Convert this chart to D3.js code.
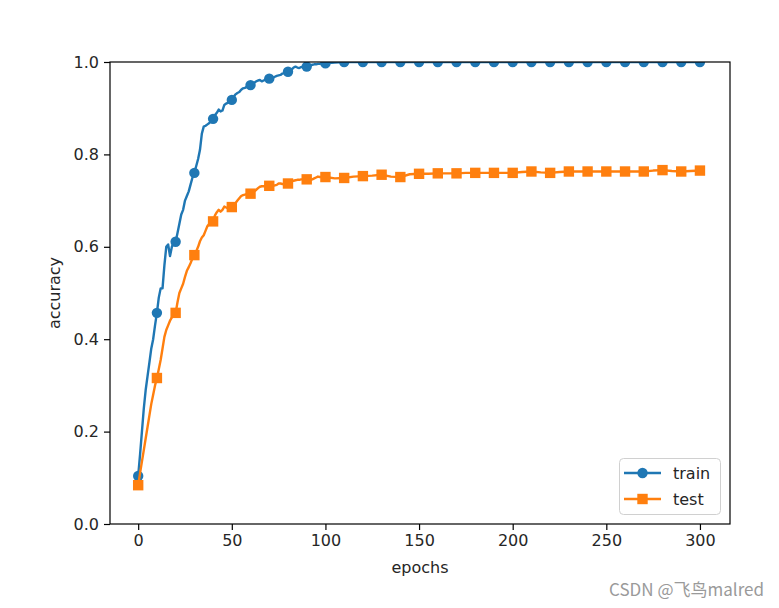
<!DOCTYPE html>
<html>
<head>
<meta charset="utf-8">
<script src="https://cdn.jsdelivr.net/npm/d3@7"></script>
<style>
  html, body { margin: 0; padding: 0; background: #fff; }
  svg { display: block; font-family: "DejaVu Sans", sans-serif; }
</style>
</head>
<body>
<svg id="chart" width="779" height="608"></svg>
<script>
// ---------------- data ----------------
// sample grid: every epoch 0..100, then every 5 epochs to 300
const epochs = d3.range(0, 101).concat(d3.range(105, 301, 5));

const trainAcc = [
  0.104, 0.15, 0.20, 0.25, 0.29, 0.32, 0.35, 0.38, 0.40, 0.43,
  0.457, 0.49, 0.51, 0.51, 0.56, 0.60, 0.605, 0.58, 0.60, 0.61,
  0.611, 0.63, 0.65, 0.67, 0.68, 0.70, 0.71, 0.72, 0.735, 0.75,
  0.76, 0.775, 0.79, 0.81, 0.845, 0.86, 0.862, 0.865, 0.868, 0.872,
  0.877, 0.885, 0.89, 0.897, 0.893, 0.895, 0.907, 0.91, 0.912, 0.915,
  0.918, 0.925, 0.93, 0.933, 0.935, 0.94, 0.943, 0.944, 0.946, 0.948,
  0.950, 0.952, 0.955, 0.958, 0.96, 0.961, 0.958, 0.96, 0.962, 0.963,
  0.964, 0.965, 0.966, 0.968, 0.97, 0.971, 0.972, 0.975, 0.976, 0.978,
  0.979, 0.981, 0.984, 0.988, 0.99, 0.988, 0.987, 0.989, 0.99, 0.99,
  0.99, 0.992, 0.993, 0.994, 0.995, 0.995, 0.996, 0.996, 0.997, 0.997,
  0.997,
  0.999, 1.0, 1.0, 1.0, 1.0, 1.0, 1.0, 1.0, 1.0, 1.0,
  1.0, 1.0, 1.0, 1.0, 1.0, 1.0, 1.0, 1.0, 1.0, 1.0,
  1.0, 1.0, 1.0, 1.0, 1.0, 1.0, 1.0, 1.0, 1.0, 1.0,
  1.0, 1.0, 1.0, 1.0, 1.0, 1.0, 1.0, 1.0, 1.0, 1.0
];

const testAcc = [
  0.084, 0.11, 0.135, 0.16, 0.185, 0.21, 0.235, 0.26, 0.28, 0.30,
  0.316, 0.335, 0.355, 0.38, 0.405, 0.42, 0.43, 0.44, 0.447, 0.452,
  0.457, 0.48, 0.50, 0.51, 0.52, 0.535, 0.548, 0.556, 0.565, 0.575,
  0.582, 0.59, 0.60, 0.612, 0.62, 0.625, 0.635, 0.645, 0.65, 0.652,
  0.655, 0.668, 0.675, 0.68, 0.676, 0.68, 0.687, 0.685, 0.683, 0.684,
  0.686, 0.69, 0.695, 0.70, 0.705, 0.71, 0.712, 0.713, 0.714, 0.715,
  0.715, 0.717, 0.72, 0.723, 0.727, 0.73, 0.731, 0.731, 0.731, 0.731,
  0.732, 0.732, 0.732, 0.733, 0.734, 0.737, 0.737, 0.736, 0.736, 0.736,
  0.737, 0.739, 0.742, 0.743, 0.744, 0.745, 0.745, 0.746, 0.746, 0.746,
  0.746, 0.746, 0.745, 0.746, 0.748, 0.75, 0.752, 0.751, 0.751, 0.751,
  0.751,
  0.748, 0.749, 0.752, 0.753, 0.754, 0.756, 0.752, 0.751, 0.757, 0.758,
  0.758, 0.759, 0.759, 0.759, 0.760, 0.760, 0.760, 0.760, 0.760, 0.760,
  0.762, 0.763, 0.761, 0.760, 0.762, 0.763, 0.763, 0.763, 0.763, 0.763,
  0.763, 0.763, 0.763, 0.763, 0.765, 0.766, 0.764, 0.763, 0.764, 0.765
];

const xTicks = [0, 50, 100, 150, 200, 250, 300];
const yTicks = [0.0, 0.2, 0.4, 0.6, 0.8, 1.0];
const seriesNames = ["train", "test"];
const seriesColors = ["#1f77b4", "#ff7f0e"];
const markEvery = 10;

// ---------------- layout ----------------
const svg = d3.select("#chart");
const plot = { left: 110, right: 730, top: 62, bottom: 524 };

const x = d3.scaleLinear().domain([-15.05, 316.05]).range([plot.left, plot.right]);
const y = d3.scaleLinear().domain([0, 1]).range([plot.bottom, plot.top]);

const FONT = 16;
const TEXT = "#262626";

svg.append("defs").append("clipPath").attr("id", "plotclip")
  .append("rect")
  .attr("x", plot.left).attr("y", plot.top)
  .attr("width", plot.right - plot.left).attr("height", plot.bottom - plot.top);

// axes
const xAxis = d3.axisBottom(x).tickValues(xTicks).tickFormat(d3.format("d"))
  .tickSize(6).tickPadding(5).tickSizeOuter(0);
const yAxis = d3.axisLeft(y).tickValues(yTicks).tickFormat(d3.format(".1f"))
  .tickSize(6).tickPadding(5).tickSizeOuter(0);

const gx = svg.append("g").attr("transform", `translate(0,${plot.bottom})`).call(xAxis);
const gy = svg.append("g").attr("transform", `translate(${plot.left},0)`).call(yAxis);
[gx, gy].forEach(g => {
  g.select(".domain").remove();
  g.selectAll(".tick line").attr("stroke", "#000").attr("stroke-width", 1.2);
  g.selectAll(".tick text").attr("fill", TEXT).style("font-size", FONT + "px")
    .style("font-family", "DejaVu Sans");
});

// data series
const series = [
  { name: seriesNames[0], color: seriesColors[0], values: trainAcc, marker: "circle" },
  { name: seriesNames[1], color: seriesColors[1], values: testAcc, marker: "square" }
];

const line = d3.line().x(d => x(d.e)).y(d => y(d.v));
const dataG = svg.append("g").attr("clip-path", "url(#plotclip)");

const MS = 10.4; // marker size (px)
function drawMarker(g, type, cx, cy, color) {
  if (type === "circle") {
    g.append("circle").attr("cx", cx).attr("cy", cy).attr("r", MS / 2).attr("fill", color);
  } else {
    g.append("rect").attr("x", cx - MS / 2).attr("y", cy - MS / 2)
      .attr("width", MS).attr("height", MS).attr("fill", color);
  }
}

series.forEach(s => {
  const pts = epochs.map((e, i) => ({ e, v: s.values[i] }));
  dataG.append("path").datum(pts)
    .attr("d", line).attr("fill", "none")
    .attr("stroke", s.color).attr("stroke-width", 2.4)
    .attr("stroke-linejoin", "round").attr("stroke-linecap", "square");
  const mg = dataG.append("g");
  pts.filter(p => p.e % markEvery === 0).forEach(p => drawMarker(mg, s.marker, x(p.e), y(p.v), s.color));
});

// spines
svg.append("rect")
  .attr("x", plot.left).attr("y", plot.top)
  .attr("width", plot.right - plot.left).attr("height", plot.bottom - plot.top)
  .attr("fill", "none").attr("stroke", "#000").attr("stroke-width", 1.2);

// axis labels
svg.append("text").attr("x", (plot.left + plot.right) / 2).attr("y", 573)
  .attr("text-anchor", "middle").attr("fill", TEXT)
  .style("font-size", FONT + "px").text("epochs");
svg.append("text")
  .attr("transform", `translate(60,${(plot.top + plot.bottom) / 2}) rotate(-90)`)
  .attr("text-anchor", "middle").attr("fill", TEXT)
  .style("font-size", FONT + "px").text("accuracy");

// legend
const lg = svg.append("g");
lg.append("rect").attr("x", 619.5).attr("y", 458.5).attr("width", 101).attr("height", 56)
  .attr("rx", 4).attr("fill", "#fff").attr("fill-opacity", 0.8)
  .attr("stroke", "#d0d0d0").attr("stroke-width", 1);
series.forEach((s, i) => {
  const ly = 473 + i * 26;
  lg.append("line").attr("x1", 624).attr("x2", 661).attr("y1", ly).attr("y2", ly)
    .attr("stroke", s.color).attr("stroke-width", 2.4);
  drawMarker(lg, s.marker, 642.5, ly, s.color);
  lg.append("text").attr("x", 673).attr("y", ly + 6).attr("fill", TEXT)
    .style("font-size", FONT + "px").text(s.name);
});

// watermark
svg.append("text").attr("x", 764).attr("y", 596).attr("text-anchor", "end")
  .attr("fill", "#9a9a9a")
  .style("font-family", "'Noto Sans CJK SC', 'Noto Sans', sans-serif")
  .style("font-size", "17px").text("CSDN @飞鸟malred");
</script>
</body>
</html>
